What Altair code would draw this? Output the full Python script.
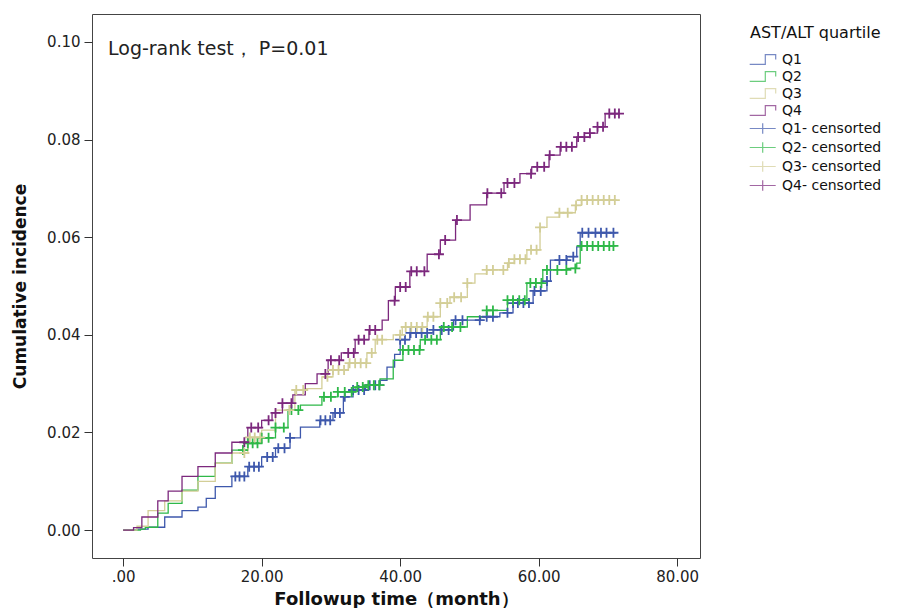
import altair as alt
import pandas as pd

# ---------------- data ----------------
groups = ["Q1", "Q2", "Q3", "Q4"]
censor_names = ["Q1- censorted", "Q2- censorted", "Q3- censorted", "Q4- censorted"]
line_colors = ["#3E58AC", "#2EB848", "#D3CE97", "#7C287D"]

x_ticks = [0, 20, 40, 60, 80]
y_ticks = [0.0, 0.02, 0.04, 0.06, 0.08, 0.10]

q1_time = [0, 2.0, 3.6, 6.0, 8.5, 10.8, 12.0, 13.3, 15.7, 18.0, 20.0, 22.0, 24.1, 25.6, 28.4,
           30.3, 31.8, 33.2, 35.0, 37.1, 38.1, 39.2, 40.0, 41.4, 44.8, 47.7, 51.6, 54.4, 56.3,
           59.2, 61.2, 61.7, 64.1, 65.5, 66.0, 71.2]
q1_cuminc = [0, 0.0002, 0.0006, 0.0027, 0.0040, 0.0047, 0.0065, 0.0089, 0.0110, 0.0130, 0.0150,
             0.0168, 0.0189, 0.0211, 0.0225, 0.0240, 0.0273, 0.0287, 0.0297, 0.0307, 0.0334,
             0.0360, 0.0390, 0.0404, 0.0410, 0.0430, 0.0437, 0.0445, 0.0465, 0.0490, 0.0510,
             0.0553, 0.0560, 0.0580, 0.0609, 0.0609]

q2_time = [0, 2.5, 3.2, 5.0, 6.5, 8.5, 10.8, 13.3, 15.7, 18.0, 20.0, 22.0, 23.8, 25.6, 28.7,
           31.0, 33.5, 35.2, 37.1, 39.0, 40.4, 42.9, 45.8, 49.7, 52.5, 55.5, 58.3, 60.6, 64.1,
           65.5, 66.0, 71.2]
q2_cuminc = [0, 0.0002, 0.0006, 0.0035, 0.0055, 0.0082, 0.0110, 0.0137, 0.0164, 0.0178, 0.0189,
             0.0210, 0.0246, 0.0256, 0.0273, 0.0283, 0.0293, 0.0297, 0.0310, 0.0348, 0.0369,
             0.0390, 0.0416, 0.0437, 0.0450, 0.0471, 0.0506, 0.0533, 0.0536, 0.0547, 0.0582,
             0.0582]

q3_time = [0, 2.0, 3.6, 6.0, 8.5, 10.8, 13.3, 15.7, 18.0, 20.0, 22.0, 24.8, 26.3, 28.7, 30.3,
           32.5, 35.2, 36.4, 39.0, 40.3, 43.9, 45.8, 47.2, 49.7, 50.8, 52.5, 55.5, 56.5, 58.3,
           60.2, 61.2, 63.0, 65.3, 66.2, 71.3]
q3_cuminc = [0, 0.0008, 0.0040, 0.0060, 0.0080, 0.0100, 0.0137, 0.0158, 0.0190, 0.0205, 0.0246,
             0.0287, 0.0290, 0.0314, 0.0328, 0.0342, 0.0363, 0.0390, 0.0400, 0.0416, 0.0437,
             0.0465, 0.0477, 0.0506, 0.0525, 0.0533, 0.0547, 0.0555, 0.0574, 0.0620, 0.0641,
             0.0650, 0.0665, 0.0676, 0.0676]

q4_time = [0, 1.5, 2.7, 5.0, 6.5, 8.5, 10.8, 13.3, 15.7, 18.0, 20.0, 21.5, 23.0, 24.5, 26.3,
           28.0, 29.6, 31.5, 33.5, 35.5, 37.4, 38.3, 39.3, 41.4, 43.9, 45.8, 48.0, 50.1, 52.5,
           55.0, 57.3, 59.0, 61.5, 63.1, 65.5, 67.4, 68.5, 69.6, 71.6]
q4_cuminc = [0, 0.0005, 0.0027, 0.0060, 0.0080, 0.0110, 0.0130, 0.0158, 0.0180, 0.0210, 0.0225,
             0.0240, 0.0260, 0.0277, 0.0300, 0.0320, 0.0348, 0.0363, 0.0390, 0.0410, 0.0430,
             0.0470, 0.0498, 0.0530, 0.0565, 0.0594, 0.0635, 0.0666, 0.0690, 0.0711, 0.0730,
             0.0744, 0.0768, 0.0785, 0.0805, 0.0813, 0.0826, 0.0853, 0.0853]

q1_censor = [16.2, 16.8, 17.5, 18.2, 18.9, 19.6, 20.8, 21.6, 22.4, 23.3, 24.1, 28.5, 29.2, 29.9,
             30.6, 31.3, 32.0, 33.2, 34.0, 34.8, 35.6, 36.4, 37.0, 40.0, 40.7, 41.5, 42.3, 43.1,
             43.9, 44.8, 46.0, 47.0, 48.0, 49.0, 51.5, 52.5, 53.4, 55.5, 56.3, 57.0, 57.8, 58.6,
             59.4, 60.3, 61.2, 63.0, 64.0, 65.0, 66.3, 67.2, 68.2, 69.0, 69.8, 70.8]
q2_censor = [17.3, 18.0, 18.7, 19.4, 20.0, 21.0, 22.0, 23.2, 24.3, 25.3, 29.0, 30.0, 31.0, 32.0,
             33.0, 33.8, 34.6, 35.4, 36.2, 37.0, 40.4, 41.2, 42.0, 42.8, 43.6, 44.5, 45.3, 46.3,
             47.5, 48.7, 52.5, 53.4, 55.5, 56.3, 57.2, 58.0, 58.8, 59.6, 60.4, 61.2, 62.7, 64.0,
             65.3, 66.2, 67.0, 67.8, 68.6, 69.4, 70.2, 70.8]
q3_censor = [17.5, 18.3, 19.0, 19.8, 24.0, 25.0, 26.0, 29.5, 30.3, 31.1, 31.9, 32.7, 33.5, 34.3,
             35.1, 35.9, 36.7, 37.4, 40.0, 40.8, 41.6, 42.4, 43.2, 44.0, 44.8, 45.8, 46.8, 47.8,
             48.8, 49.7, 52.5, 53.4, 54.9, 55.7, 56.5, 57.3, 58.1, 58.9, 59.7, 60.2, 63.0, 64.2,
             65.4, 66.2, 67.0, 67.8, 68.6, 69.4, 70.2, 71.0]
q4_censor = [17.5, 18.5, 19.5, 21.0, 22.0, 23.0, 24.3, 29.2, 30.0, 31.2, 32.5, 33.3, 34.0, 34.8,
             35.6, 36.4, 39.2, 40.0, 40.8, 41.6, 42.4, 43.5, 45.6, 46.5, 48.2, 52.6, 54.6, 55.5,
             56.5, 58.9, 59.8, 60.8, 61.6, 63.2, 64.0, 64.8, 65.7, 66.6, 67.4, 68.5, 69.3, 70.2,
             71.0, 71.6]

# ---------------- tables ----------------
curve_sets = [(q1_time, q1_cuminc), (q2_time, q2_cuminc), (q3_time, q3_cuminc), (q4_time, q4_cuminc)]
censor_sets = [q1_censor, q2_censor, q3_censor, q4_censor]

curve_frames, censor_frames = [], []
for g, cname, (ts, vs), cens in zip(groups, censor_names, curve_sets, censor_sets):
    cf = pd.DataFrame({"time": [float(t) for t in ts], "cuminc": vs})
    curve_frames.append(cf.assign(group=g))
    cc = pd.DataFrame({"time": sorted(float(t) for t in cens)})
    cc = pd.merge_asof(cc, cf.sort_values("time"), on="time", direction="backward")
    censor_frames.append(cc.assign(group=cname))
curves = pd.concat(curve_frames, ignore_index=True)
censors = pd.concat(censor_frames, ignore_index=True)

all_names = groups + censor_names
step_path = "M-1.2,0.75L1.2,0.75L1.2,-0.75L2.8,-0.75L2.8,0"
cross_path = "M-1.2,0L2.8,0M0.8,-0.8L0.8,0.8"
plus_path = "M-1,0L1,0M0,-1L0,1"

color_scale = alt.Scale(domain=all_names, range=line_colors + line_colors)
shape_scale = alt.Scale(domain=all_names, range=[step_path] * 4 + [cross_path] * 4)

FONT = "DejaVu Sans"

legend = alt.Legend(
    title="AST/ALT quartile", orient="none", legendX=658, legendY=11,
    titleFontSize=16, titleFontWeight="normal", titleColor="#111", titleFont=FONT,
    titlePadding=11, labelFontSize=14, labelColor="#111", labelFont=FONT,
    symbolSize=169, symbolStrokeWidth=1.2, rowPadding=2, labelOffset=17,
)

x_enc = alt.X(
    "time:Q",
    scale=alt.Scale(domain=[-4.5, 83.3], nice=False, zero=False),
    axis=alt.Axis(
        values=x_ticks, title="Followup time（month）",
        labelExpr="datum.value == 0 ? '.00' : format(datum.value, '.2f')",
    ),
)
y_enc = alt.Y(
    "cuminc:Q",
    scale=alt.Scale(domain=[-0.0057, 0.1057], nice=False, zero=False),
    axis=alt.Axis(values=y_ticks, format=".2f", title="Cumulative incidence"),
)

legend_layer = alt.Chart(alt.InlineData(values=[])).mark_point(
    filled=False, strokeWidth=1.2
).encode(
    x=alt.X("time:Q"), y=alt.Y("cuminc:Q"),
    color=alt.Color("group:N", scale=color_scale, legend=legend),
    shape=alt.Shape("group:N", scale=shape_scale, legend=legend),
)

lines = alt.Chart(curves).mark_line(interpolate="step-after", strokeWidth=1.3).encode(
    x=x_enc, y=y_enc,
    color=alt.Color("group:N", scale=color_scale, legend=legend),
    detail="group:N",
)

points = alt.Chart(censors).mark_point(
    shape=plus_path, size=100, filled=False, strokeWidth=1.8, opacity=1
).encode(
    x=alt.X("time:Q"), y=alt.Y("cuminc:Q"),
    color=alt.Color("group:N", scale=color_scale, legend=legend),
)

note = alt.Chart(alt.InlineData(values=[{"label": "Log-rank test， P=0.01"}])).mark_text(
    align="left", baseline="middle", fontSize=19, font=FONT, color="#222"
).encode(x=alt.value(16), y=alt.value(35), text="label:N")

chart = alt.layer(legend_layer, lines, points, note).properties(
    width=608, height=544,
    autosize=alt.AutoSizeParams(type="none"),
    padding={"left": 84, "top": 6, "right": 204, "bottom": 50},
).configure_view(
    stroke="#444", strokeWidth=1
).configure_axis(
    domain=False, grid=False, tickSize=8, tickColor="#333", tickWidth=1,
    labelFont=FONT, labelFontSize=15, labelColor="#222", labelPadding=4,
    titleFont=FONT, titleFontSize=17, titleFontWeight="bold", titleColor="#111",
).configure_axisX(titlePadding=6, labelPadding=3, titleFontSize=18).configure_axisY(titlePadding=17)

chart.save("out.html", embed_options={"renderer": "svg", "actions": False})
